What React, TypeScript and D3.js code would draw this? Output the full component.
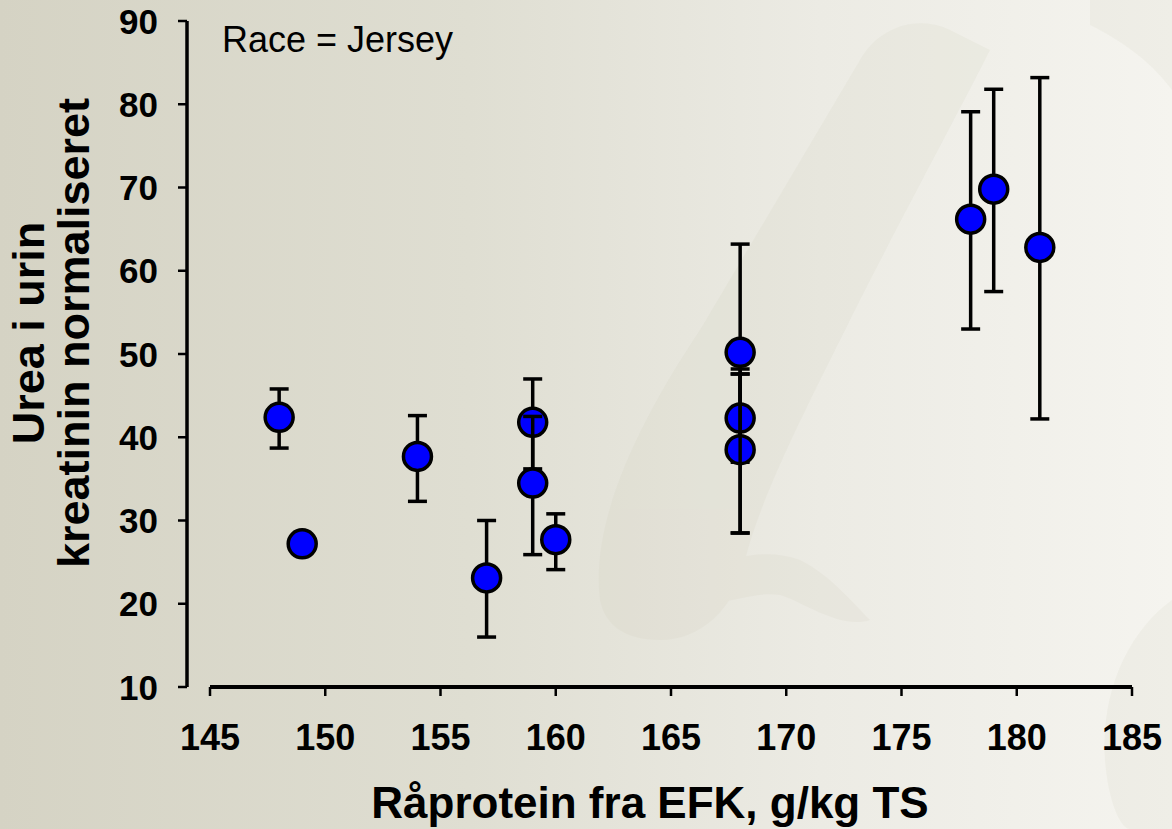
import React from "react";
import * as d3 from "d3";

const protein = [148, 149, 154, 157, 159, 159, 160, 168, 168, 168, 178, 179, 181];
const urea = [42.4, 27.2, 37.7, 23.1, 41.8, 34.5, 27.7, 50.2, 42.3, 38.5, 66.2, 69.8, 62.8];
const errHigh = [45.8, 27.2, 42.6, 30.0, 47.0, 42.5, 30.8, 63.2, 48.2, 47.6, 79.1, 81.8, 83.2];
const errLow = [38.7, 27.2, 32.3, 16.0, 36.2, 25.9, 24.1, 37.2, 37.0, 28.5, 53.0, 57.5, 42.2];
const frontBars = [9];

const xTicks = [145, 150, 155, 160, 165, 170, 175, 180, 185];
const yTicks = [10, 20, 30, 40, 50, 60, 70, 80, 90];

const xTitle = "Råprotein fra EFK, g/kg TS";
const yTitle1 = "Urea i urin";
const yTitle2 = "kreatinin normaliseret";
const note = "Race = Jersey";

const W = 1172;
const H = 829;
const FONT = "'Liberation Sans', Arial, Helvetica, sans-serif";

export default function App() {
  const x = d3.scaleLinear().domain([145, 185]).range([210, 1132]);
  const y = d3.scaleLinear().domain([10, 90]).range([687, 21]);
  const axisX = 187;
  const axisY = y(10);
  const cap = 9.5;
  const r = 14;

  const bar = (i: number, key: string) => {
    const cx = x(protein[i]);
    const y1 = y(errHigh[i]);
    const y2 = y(errLow[i]);
    if (errHigh[i] === errLow[i]) return null;
    return (
      <g key={key} stroke="#000" strokeWidth={3.5} fill="none">
        <line x1={cx} x2={cx} y1={y1} y2={y2} />
        <line x1={cx - cap} x2={cx + cap} y1={y1} y2={y1} />
        <line x1={cx - cap} x2={cx + cap} y1={y2} y2={y2} />
      </g>
    );
  };

  return (
    <svg
      width={W}
      height={H}
      viewBox={`0 0 ${W} ${H}`}
      style={{ position: "absolute", left: 0, top: 0, display: "block" }}
    >
      <defs>
        <linearGradient id="bg" x1="0" y1="0" x2="1" y2="0">
          <stop offset="0" stopColor="#d5d3c4" />
          <stop offset="0.4" stopColor="#dfded2" />
          <stop offset="0.7" stopColor="#ecebe4" />
          <stop offset="1" stopColor="#f5f4ef" />
        </linearGradient>
      </defs>
      <rect x={0} y={0} width={W} height={H} fill="url(#bg)" />
      {/* faint decorative background shapes */}
      <g fill="#c9c3ae" opacity={0.12}>
        <path d="M600,600 C590,520 640,420 700,330 L860,60 C880,25 920,15 950,30 L990,50 C960,110 900,220 850,320 C800,420 760,500 745,560 C735,610 700,640 660,640 C625,640 605,625 600,600 Z" />
        <path d="M690,600 C700,560 760,545 800,560 C830,575 850,600 870,620 C840,630 800,600 780,595 C750,590 720,610 690,600 Z" />
        <path d="M1090,0 L1172,0 L1172,90 C1150,60 1120,40 1090,25 Z" />
        <path d="M1172,600 C1130,630 1100,690 1105,760 C1108,800 1120,829 1130,829 L1172,829 Z" />
      </g>

      {/* Y axis */}
      <line x1={axisX} x2={axisX} y1={y(90)} y2={axisY} stroke="#000" strokeWidth={3.5} />
      {yTicks.map((t) => (
        <g key={"yt" + t}>
          <line x1={axisX - 9} x2={axisX} y1={y(t)} y2={y(t)} stroke="#000" strokeWidth={2.5} />
          <text
            x={158}
            y={y(t)}
            dy="0.36em"
            textAnchor="end"
            fontFamily={FONT}
            fontWeight="bold"
            fontSize={35}
            fill="#000"
          >
            {t}
          </text>
        </g>
      ))}

      {/* X axis */}
      <line x1={x(145)} x2={x(185)} y1={axisY} y2={axisY} stroke="#000" strokeWidth={4} />
      {xTicks.map((t) => (
        <g key={"xt" + t}>
          <line x1={x(t)} x2={x(t)} y1={axisY} y2={axisY + 9} stroke="#000" strokeWidth={2.5} />
          <text
            x={x(t)}
            y={750}
            textAnchor="middle"
            fontFamily={FONT}
            fontWeight="bold"
            fontSize={36}
            fill="#000"
          >
            {t}
          </text>
        </g>
      ))}

      {/* Titles */}
      <text
        x={650}
        y={818}
        textAnchor="middle"
        fontFamily={FONT}
        fontWeight="bold"
        fontSize={44}
        fill="#000"
      >
        {xTitle}
      </text>
      <g transform="translate(0,333) rotate(-90)">
        <text x={0} y={44} textAnchor="middle" fontFamily={FONT} fontWeight="bold" fontSize={45} fill="#000">
          {yTitle1}
        </text>
        <text x={0} y={89} textAnchor="middle" fontFamily={FONT} fontWeight="bold" fontSize={45} fill="#000">
          {yTitle2}
        </text>
      </g>
      <text x={222} y={52} fontFamily={FONT} fontSize={36} fill="#000">
        {note}
      </text>

      {/* Data */}
      {protein.map((p, i) => (
        <g key={"pt" + i}>
          {bar(i, "b" + i)}
          <circle cx={x(p)} cy={y(urea[i])} r={r} fill="#0000ff" stroke="#000" strokeWidth={3.5} />
        </g>
      ))}
      {frontBars.map((i) => bar(i, "fb" + i))}
    </svg>
  );
}
